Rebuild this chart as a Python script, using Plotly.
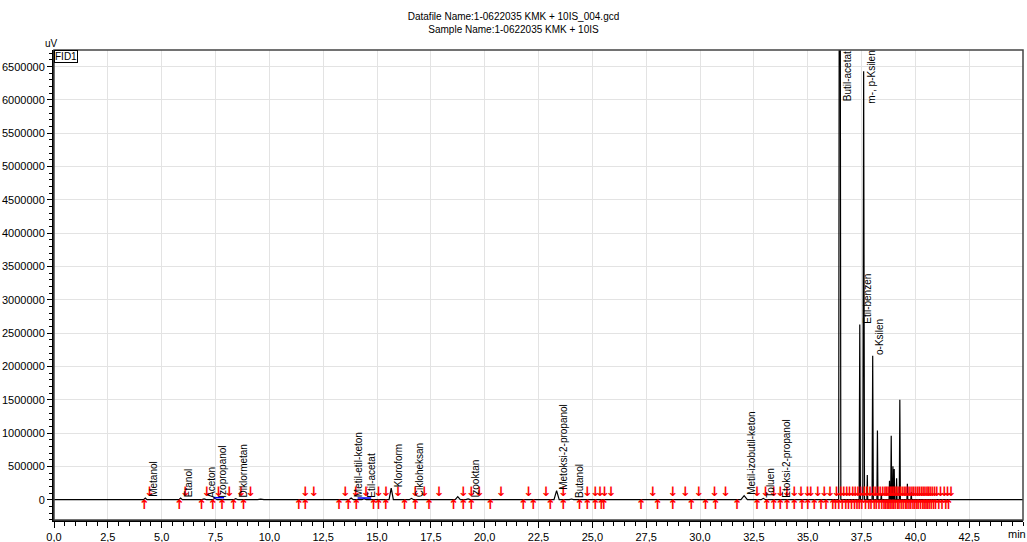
import plotly.graph_objects as go

# Identified compounds: name, retention time (min), apex height (uV)
compound_names = [
    "Metanol", "Etanol", "Aceton", "Izopropanol", "Diklormetan",
    "Metil-etil-keton", "Etil-acetat", "Kloroform", "Cikloheksan", "Izooktan",
    "Metoksi-2-propanol", "Butanol", "Metil-izobutil-keton", "Toluen",
    "Etoksi-2-propanol", "Butil-acetat", "Etil-benzen", "m-, p-Ksilen", "o-Ksilen",
]
compound_rt = [
    4.24, 5.88, 6.97, 7.47, 8.44,
    13.80, 14.40, 15.66, 16.60, 19.23,
    23.34, 24.03, 32.05, 32.94,
    33.63, 36.49, 37.42, 37.60, 38.02,
]
compound_height = [
    25000, 25000, 12000, 20000, 15000,
    25000, 15000, 175000, 20000, 12000,
    135000, 10000, 60000, 20000,
    10000, 15000000, 2630000, 6430000, 2160000,
]
compound_halfwidth = [
    0.08, 0.08, 0.10, 0.10, 0.10,
    0.10, 0.10, 0.10, 0.10, 0.10,
    0.12, 0.10, 0.15, 0.10,
    0.10, 0.05, 0.03, 0.04, 0.03,
]

# Unidentified peaks
other_rt = [9.60, 18.75, 20.70, 37.77, 38.24, 38.42, 38.80, 38.88, 38.96,
            39.02, 39.13, 39.28, 39.63, 39.81]
other_height = [8000, 45000, 8000, 370000, 1040000, 90000, 285000, 960000, 500000,
                460000, 320000, 1500000, 240000, 110000]
other_halfwidth = [0.15, 0.12, 0.15, 0.02, 0.025, 0.02, 0.02, 0.025, 0.02,
                   0.02, 0.02, 0.025, 0.02, 0.02]

# Integration baselines drawn in blue (start, end, level)
blue_start = [7.40, 14.10]
blue_end = [7.90, 14.73]
blue_level = [30000, 25000]

# Peak start / end event markers
event_up = [
    4.20, 5.83, 6.86, 7.38, 7.81, 8.35, 8.81, 11.37, 11.68, 13.25, 13.67, 14.04,
    14.85, 15.08, 15.42, 16.29, 16.79, 17.42, 18.56, 19.02, 19.39, 20.27, 21.80,
    22.27, 23.05, 23.66, 24.41, 24.77, 25.14, 25.42, 25.54, 27.27, 28.04, 28.74,
    29.60, 30.26, 30.73, 31.73, 32.66, 33.11, 33.43, 33.74, 34.05, 34.39, 34.75,
    35.01, 35.32, 35.63, 35.86, 36.17, 36.30, 36.45, 36.62, 36.78, 36.90, 37.05,
    37.18, 37.30, 37.40, 37.52, 37.70, 37.85, 37.95, 38.10, 38.20, 38.32, 38.45,
    38.55, 38.62, 38.70, 38.78, 38.85, 38.93, 39.00, 39.08, 39.18, 39.25, 39.35,
    39.45, 39.55, 39.62, 39.72, 39.80, 39.90, 39.98, 40.08, 40.15, 40.25, 40.35,
    40.42, 40.50, 40.58, 40.65, 40.75, 40.85, 40.95, 41.10, 41.25, 41.42, 41.55,
]
event_down = [
    4.44, 6.11, 7.10, 7.65, 8.15, 8.69, 9.13, 11.68, 12.07, 13.54, 14.02, 14.50,
    15.08, 15.43, 15.99, 16.79, 17.20, 17.89, 19.02, 19.39, 19.76, 20.77, 22.05,
    22.86, 23.66, 24.77, 25.14, 25.37, 25.57, 25.88, 27.81, 28.74, 29.33, 29.95,
    30.68, 31.19, 32.66, 33.05, 33.43, 33.74, 34.05, 34.39, 34.70, 35.00, 35.15,
    35.48, 35.78, 36.05, 36.35, 36.55, 36.68, 36.82, 36.95, 37.10, 37.22, 37.35,
    37.47, 37.62, 37.75, 37.90, 38.05, 38.15, 38.27, 38.38, 38.50, 38.60, 38.67,
    38.75, 38.83, 38.90, 38.97, 39.05, 39.12, 39.22, 39.30, 39.40, 39.50, 39.58,
    39.67, 39.76, 39.85, 39.94, 40.03, 40.12, 40.20, 40.30, 40.38, 40.46, 40.55,
    40.62, 40.70, 40.80, 40.90, 41.00, 41.18, 41.35, 41.50, 41.66,
]

# Axis setup
x_range = [0, 45]
y_range = [-305000, 6750000]
x_tickvals = [0, 2.5, 5, 7.5, 10, 12.5, 15, 17.5, 20, 22.5, 25, 27.5, 30, 32.5,
              35, 37.5, 40, 42.5]
x_ticktext = ["0,0", "2,5", "5,0", "7,5", "10,0", "12,5", "15,0", "17,5", "20,0",
              "22,5", "25,0", "27,5", "30,0", "32,5", "35,0", "37,5", "40,0", "42,5"]
y_tickvals = [0, 500000, 1000000, 1500000, 2000000, 2500000, 3000000, 3500000,
              4000000, 4500000, 5000000, 5500000, 6000000, 6500000]

FONT = "Liberation Sans, Arial, sans-serif"

# Build the detector trace: flat baseline with each peak as a sharp profile
peaks = sorted(
    zip(compound_rt + other_rt, compound_height + other_height,
        compound_halfwidth + other_halfwidth)
)
sig_x = [x_range[0]]
sig_y = [0]
for rt, h, w in peaks:
    sig_x += [rt - w, rt, rt + w]
    sig_y += [0, h, 0]
sig_x.append(x_range[1])
sig_y.append(0)

fig = go.Figure()

fig.add_trace(go.Scatter(
    x=sig_x, y=sig_y, mode="lines",
    line=dict(color="black", width=1.2),
    hoverinfo="skip", showlegend=False,
))

bx, by = [], []
for s, e, lv in zip(blue_start, blue_end, blue_level):
    bx += [s, e, None]
    by += [lv, lv, None]
fig.add_trace(go.Scatter(
    x=bx, y=by, mode="lines", line=dict(color="blue", width=1.5),
    hoverinfo="skip", showlegend=False,
))

fig.add_trace(go.Scatter(
    x=event_up, y=[0] * len(event_up), mode="text", text=["↑"] * len(event_up),
    textposition="bottom center",
    textfont=dict(color="#ff0000", size=13, family="DejaVu Sans", weight="bold"),
    hoverinfo="skip", showlegend=False,
))
fig.add_trace(go.Scatter(
    x=event_down, y=[0] * len(event_down), mode="text",
    text=["↓"] * len(event_down), textposition="top center",
    textfont=dict(color="#ff0000", size=13, family="DejaVu Sans", weight="bold"),
    hoverinfo="skip", showlegend=False,
))

annotations = []
for name, rt, h in zip(compound_names, compound_rt, compound_height):
    at_top = h > 6000000
    annotations.append(dict(
        x=rt, y=y_range[1] if at_top else h, xref="x", yref="y",
        text=name, textangle=-90, showarrow=False,
        xanchor="left", yanchor="top" if at_top else "bottom",
        xshift=1, borderpad=0,
        font=dict(family=FONT, size=10, color="black"),
    ))

annotations += [
    dict(x=0, y=1, xref="paper", yref="paper", text="uV", showarrow=False,
         xanchor="center", yanchor="bottom", xshift=-3, borderpad=0,
         font=dict(family=FONT, size=10, color="black")),
    dict(x=0, y=1, xref="paper", yref="paper", text="FID1", showarrow=False,
         xanchor="left", yanchor="top", borderpad=0, bordercolor="black",
         borderwidth=1, bgcolor="white",
         font=dict(family=FONT, size=10, color="black")),
    dict(x=1, y=0, xref="paper", yref="paper", text="min", showarrow=False,
         xanchor="right", yanchor="top", xshift=4, yshift=-7, borderpad=0,
         font=dict(family=FONT, size=11, color="black")),
]

fig.update_layout(
    width=1027, height=542,
    margin=dict(l=54, r=4, t=50, b=22, autoexpand=False),
    paper_bgcolor="white", plot_bgcolor="white",
    font=dict(family=FONT, size=11, color="black"),
    title=dict(
        text="Datafile Name:1-0622035 KMK + 10IS_004.gcd<br>"
             "Sample Name:1-0622035 KMK + 10IS",
        x=0.5, xref="container", xanchor="center",
        y=1 - 20 / 542, yref="container", yanchor="middle",
        font=dict(family=FONT, size=10, color="black"),
    ),
    annotations=annotations,
    shapes=[dict(type="rect", xref="paper", yref="paper", x0=0, y0=0, x1=1, y1=1,
                 line=dict(color="#444444", width=1.5), layer="above")],
    showlegend=False,
)

fig.update_xaxes(
    range=x_range, tickmode="array", tickvals=x_tickvals, ticktext=x_ticktext,
    automargin=False,
    showgrid=True, gridcolor="#e3e3e3", gridwidth=1,
    showline=True, linecolor="black", linewidth=1.5,
    ticks="outside", ticklen=6, tickcolor="black", tickwidth=1,
    minor=dict(dtick=0.5, ticks="outside", ticklen=4, tickcolor="black",
               showgrid=False),
    zeroline=False, tickfont=dict(family=FONT, size=11, color="black"),
)
fig.update_yaxes(
    range=y_range, tickmode="array", tickvals=y_tickvals, tickformat="d",
    automargin=False,
    showgrid=True, gridcolor="#e3e3e3", gridwidth=1,
    showline=True, linecolor="black", linewidth=2,
    ticks="outside", ticklen=5, tickcolor="black", tickwidth=1,
    minor=dict(dtick=100000, ticks="outside", ticklen=3, tickcolor="black",
               showgrid=False),
    zeroline=False, tickfont=dict(family=FONT, size=11, color="black"),
)

fig.write_html("out.html")
